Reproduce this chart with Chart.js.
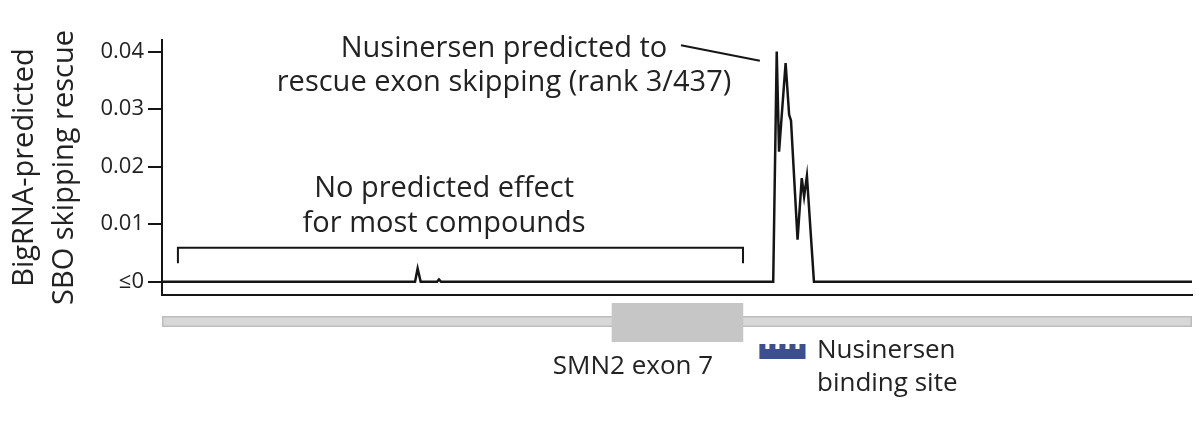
<!DOCTYPE html>
<html lang="en">
<head>
    <meta charset="UTF-8">
    <title>BigRNA SBO skipping rescue</title>
    <script src="https://cdn.jsdelivr.net/npm/chart.js"></script>
    <style>
        body { margin: 0; background: #fff; }
        #wrap { width: 1200px; height: 423px; }
    </style>
</head>
<body>
    <div id="wrap"><canvas id="chart" width="1200" height="423"></canvas></div>

    <script>
        // SBO position along the SMN2 region and predicted skipping rescue
        const sboPos = [0, 108.1, 109.2, 110.5, 117.5, 118.3, 119.2, 261.1, 262.6, 263.6, 266.4, 267.9, 268.7, 271.5, 273.3, 274.3, 275.5, 278.5, 440];
        const rescueScore = [0, 0, 0.0023, 0, 0, 0.0004, 0, 0, 0.0400, 0.0226, 0.0380, 0.0290, 0.0280, 0.0073, 0.0180, 0.0148, 0.0184, 0, 0];

        const yTickVals = [0, 0.01, 0.02, 0.03, 0.04];
        const yTickLabels = ['≤0', '0.01', '0.02', '0.03', '0.04'];

        // gene model, in the same position units
        const geneSpan = [0, 440];
        const exon7Span = [192.1, 248.3];
        const bindingSpan = [255.2, 274.9];
        const bracketSpan = [6.8, 248.2];

        const ink = '#151515';
        const textCol = '#222';
        const bigFont = "29px 'Open Sans', sans-serif";
        const smallFont = "26px 'Open Sans', sans-serif";

        Chart.defaults.font.family = "'Open Sans', sans-serif";
        Chart.defaults.color = textCol;

        const notes = {
            id: 'notes',
            afterDatasetsDraw(chart) {
                const ctx = chart.ctx;
                const xs = chart.scales.x, ys = chart.scales.y;
                const bot = chart.chartArea.bottom;
                const px = v => xs.getPixelForValue(v);
                const py = v => ys.getPixelForValue(v);
                ctx.save();

                // bracket over the flat region
                ctx.strokeStyle = ink;
                ctx.lineWidth = 2;
                ctx.beginPath();
                ctx.moveTo(px(bracketSpan[0]), py(0.0032));
                ctx.lineTo(px(bracketSpan[0]), py(0.0059));
                ctx.lineTo(px(bracketSpan[1]), py(0.0059));
                ctx.lineTo(px(bracketSpan[1]), py(0.0032));
                ctx.stroke();

                // leader line to the peak
                ctx.beginPath();
                ctx.moveTo(px(221.7), py(0.0411));
                ctx.lineTo(px(255.4), py(0.0384));
                ctx.stroke();

                ctx.fillStyle = textCol;
                ctx.font = bigFont;
                ctx.textAlign = 'center';
                ctx.textBaseline = 'alphabetic';
                ctx.fillText('Nusinersen predicted to', px(146.1), py(0.0391));
                ctx.fillText('rescue exon skipping (rank 3/437)', px(146.1), py(0.0332));
                ctx.fillText('No predicted effect', px(120.5), py(0.01478));
                ctx.fillText('for most compounds', px(120.5), py(0.0087));

                // gene bar
                ctx.fillStyle = '#d8d8d8';
                ctx.strokeStyle = '#bdbdbd';
                ctx.lineWidth = 1.5;
                const gx0 = px(geneSpan[0]), gx1 = px(geneSpan[1]);
                ctx.fillRect(gx0, bot + 21, gx1 - gx0, 11);
                ctx.strokeRect(gx0 + 0.75, bot + 21.75, gx1 - gx0 - 1.5, 9.5);

                // exon 7 box
                ctx.fillStyle = '#c6c6c6';
                const ex0 = px(exon7Span[0]), ex1 = px(exon7Span[1]);
                ctx.fillRect(ex0, bot + 8, ex1 - ex0, 39);

                // nusinersen binding site (comb)
                ctx.fillStyle = '#3d4f91';
                const b0 = px(bindingSpan[0]), b1 = px(bindingSpan[1]);
                const top = bot + 49, base = bot + 54, end = bot + 64;
                ctx.fillRect(b0, base, b1 - b0, end - base);
                const teeth = 5, tw = 6;
                for (let i = 0; i < teeth; i++) {
                    const cx = b0 + (b1 - b0 - tw) * i / (teeth - 1);
                    ctx.fillRect(cx, top, tw, base - top);
                }

                ctx.fillStyle = textCol;
                ctx.font = smallFont;
                ctx.textAlign = 'center';
                ctx.fillText('SMN2 exon 7', px(201.2), bot + 79);
                ctx.textAlign = 'left';
                ctx.fillText('Nusinersen', px(279.8), bot + 63);
                ctx.fillText('binding site', px(279.8), bot + 96);

                ctx.restore();
            }
        };

        new Chart(document.getElementById('chart'), {
            type: 'line',
            data: {
                datasets: [{
                    data: sboPos.map((x, i) => ({ x, y: rescueScore[i] })),
                    borderColor: ink,
                    borderWidth: 2.5,
                    pointRadius: 0,
                    tension: 0,
                    fill: false
                }]
            },
            options: {
                responsive: false,
                animation: false,
                devicePixelRatio: 1,
                layout: { padding: { top: 40, right: 8, left: 0, bottom: 0 } },
                plugins: { legend: { display: false }, tooltip: { enabled: false } },
                scales: {
                    x: {
                        type: 'linear',
                        min: 0,
                        max: 440,
                        ticks: { display: false },
                        grid: { display: false },
                        border: { display: true, color: ink, width: 2 },
                        afterFit: s => { s.height = 128; }
                    },
                    y: {
                        min: -0.0023,
                        max: 0.042,
                        afterBuildTicks: s => { s.ticks = yTickVals.map(v => ({ value: v })); },
                        afterFit: s => { s.width = 162; },
                        ticks: {
                            padding: 4,
                            font: { size: 22 },
                            color: textCol,
                            callback: (v) => yTickLabels[yTickVals.indexOf(v)]
                        },
                        grid: { drawOnChartArea: false, drawTicks: true, tickLength: 14, color: ink, lineWidth: 2 },
                        border: { display: true, color: ink, width: 2 },
                        title: {
                            display: true,
                            text: ['BigRNA-predicted', 'SBO skipping rescue'],
                            font: { size: 29, lineHeight: 1.4 },
                            color: textCol,
                            padding: { top: 4, bottom: 0 }
                        }
                    }
                }
            },
            plugins: [notes]
        });
    </script>
</body>
</html>
